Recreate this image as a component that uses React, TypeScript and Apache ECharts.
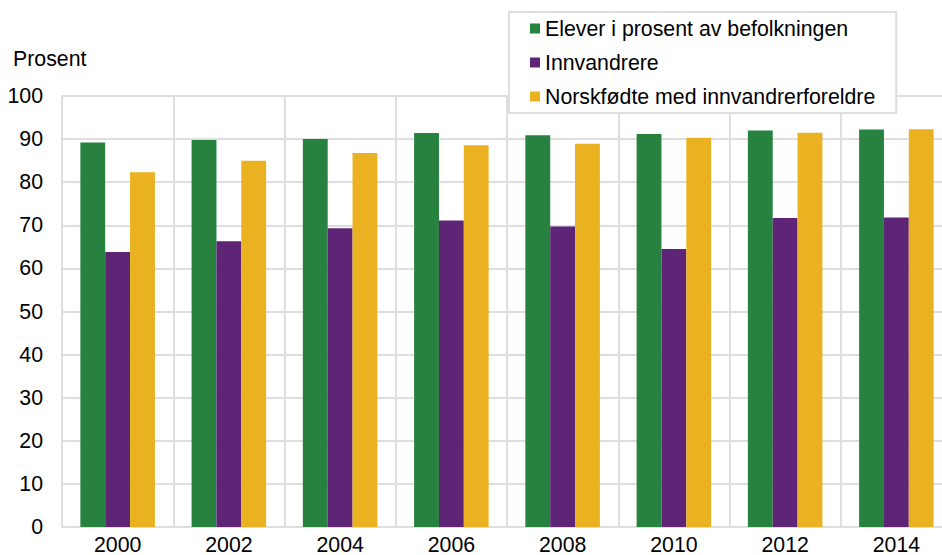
import React, { useEffect, useRef } from "react";
import * as echarts from "echarts";

const years = ["2000", "2002", "2004", "2006", "2008", "2010", "2012", "2014"];
const seriesNames = [
  "Elever i prosent av befolkningen",
  "Innvandrere",
  "Norskfødte med innvandrerforeldre",
];
const elever = [89.2, 89.8, 90.0, 91.4, 90.9, 91.2, 92.0, 92.2];
const innvandrere = [63.8, 66.3, 69.3, 71.1, 69.7, 64.5, 71.7, 71.8];
const norskfodte = [82.3, 85.0, 86.8, 88.6, 88.9, 90.3, 91.5, 92.3];
const colors = ["#27823f", "#5e2476", "#eab221"];

const FONT = "'Liberation Sans', Arial, Helvetica, sans-serif";
const GRID = "#dedede";
const FS = 21.3;

export default function App() {
  const ref = useRef<HTMLDivElement>(null);
  useEffect(() => {
    if (!ref.current) return;
    const chart = echarts.init(ref.current, null, { renderer: "svg" });
    const values = [elever, innvandrere, norskfodte];
    chart.setOption({
      animation: false,
      backgroundColor: "#ffffff",
      textStyle: { fontFamily: FONT },
      graphic: [
        {
          type: "text",
          left: 13,
          top: 48,
          style: { text: "Prosent", fontSize: FS, fontFamily: FONT, fill: "#000" },
        },
      ],
      legend: {
        orient: "vertical",
        left: 509,
        top: 12,
        padding: [6, 21, 6, 21],
        itemGap: 13,
        itemWidth: 10,
        itemHeight: 10,
        icon: "rect",
        backgroundColor: "#ffffff",
        borderColor: GRID,
        borderWidth: 2,
        borderRadius: 0,
        textStyle: { fontSize: FS, color: "#000", fontFamily: FONT },
        data: seriesNames,
        z: 10,
      },
      grid: { left: 62, right: 0, top: 96, bottom: 25, containLabel: false },
      xAxis: {
        type: "category",
        data: years,
        boundaryGap: true,
        axisTick: { show: false },
        axisLine: { show: true, lineStyle: { color: GRID, width: 2 } },
        splitLine: { show: true, lineStyle: { color: GRID, width: 2 } },
        axisLabel: { fontSize: FS, color: "#000", margin: 7, interval: 0, fontFamily: FONT },
      },
      yAxis: {
        type: "value",
        min: 0,
        max: 100,
        interval: 10,
        axisTick: { show: false },
        axisLine: { show: true, lineStyle: { color: GRID, width: 2 } },
        splitLine: { show: true, lineStyle: { color: GRID, width: 2 } },
        axisLabel: { fontSize: FS, color: "#000", margin: 19, fontFamily: FONT },
      },
      series: seriesNames.map((name, i) => ({
        name,
        type: "bar",
        data: values[i],
        barGap: "0%",
        barCategoryGap: "33%",
        itemStyle: { color: colors[i] },
        z: 2,
      })),
    });
    return () => chart.dispose();
  }, []);
  return (
    <div
      style={{
        position: "absolute",
        left: 0,
        top: 0,
        width: 942,
        height: 555,
        overflow: "hidden",
        background: "#fff",
      }}
    >
      <div ref={ref} style={{ width: 952, height: 555 }} />
    </div>
  );
}
